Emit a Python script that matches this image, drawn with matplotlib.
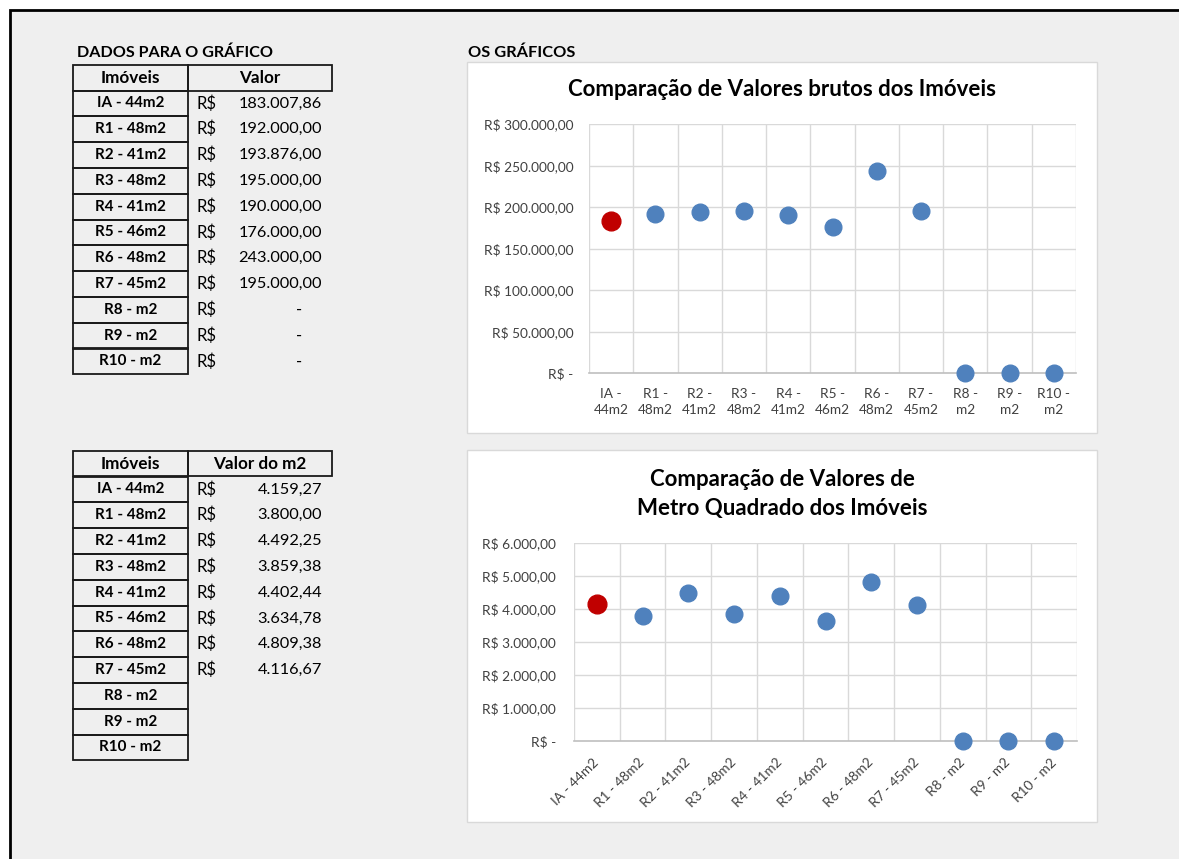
import matplotlib
matplotlib.use('Agg')
import matplotlib.pyplot as plt
from matplotlib.patches import Rectangle

plt.rcParams['font.family'] = ['Lato', 'DejaVu Sans']

#### DADOS ####
codigos = ['IA', 'R1', 'R2', 'R3', 'R4', 'R5', 'R6', 'R7', 'R8', 'R9', 'R10']
areas = [44, 48, 41, 48, 41, 46, 48, 45, None, None, None]
valores = [183007.86, 192000.00, 193876.00, 195000.00, 190000.00, 176000.00,
           243000.00, 195000.00, 0, 0, 0]
valores_m2 = [4159.27, 3800.00, 4492.25, 3859.38, 4402.44, 3634.78,
              4809.38, 4116.67, 0, 0, 0]
ticks_valor = [0, 50000, 100000, 150000, 200000, 250000, 300000]
ticks_m2 = [0, 1000, 2000, 3000, 4000, 5000, 6000]

imoveis = [f"{c} - {a}m2" if a else f"{c} - m2" for c, a in zip(codigos, areas)]


def brl(v):
    # formato contabil brasileiro
    s = f'{v:,.2f}'.replace(',', 'X').replace('.', ',').replace('X', '.')
    return s


def brl_eixo(v, pos=None):
    if v == 0:
        return 'R$ -'
    return 'R$ ' + brl(v)


#### FIGURA (coordenadas em pixels) ####
W, H = 1179, 859
fig = plt.figure(figsize=(W / 100, H / 100), dpi=100)
fig.patch.set_facecolor('white')


def fx(x):
    return x / W


def fy(y):
    return 1 - y / H


def box(x0, y0, x1, y1, zorder=-5, **kw):
    r = Rectangle((fx(x0), fy(y1)), (x1 - x0) / W, (y1 - y0) / H,
                  transform=fig.transFigure, zorder=zorder, **kw)
    fig.patches.append(r)


def txt(x, y, s, **kw):
    fig.text(fx(x), fy(y), s, **kw)


# fundo da planilha
box(10, 10, 1190, 870, zorder=-10, facecolor='#efefef', edgecolor='black', lw=2)

# titulos das secoes
txt(77, 53, 'DADOS PARA O GRÁFICO', fontsize=11.6, fontweight='bold', va='center')
txt(468, 53, 'OS GRÁFICOS', fontsize=11.8, fontweight='bold', va='center')

BORDA = '#1a1a1a'


def tabela(topo, cabecalho, valores_tab, mostrar):
    box(73, topo, 188, topo + 25.5, zorder=2, facecolor='none', edgecolor=BORDA, lw=1.3)
    box(188, topo, 332, topo + 25.5, zorder=2, facecolor='none', edgecolor=BORDA, lw=1.3)
    txt(130.5, topo + 13, 'Imóveis', fontsize=12.3, fontweight='bold', ha='center', va='center')
    txt(260, topo + 13, cabecalho, fontsize=12.3, fontweight='bold', ha='center', va='center')
    h = 25.8
    for i, nome in enumerate(imoveis):
        y0 = topo + 25.5 + i * h
        box(73, y0, 188, y0 + h, zorder=2, facecolor='none', edgecolor=BORDA, lw=1.3)
        txt(130.5, y0 + h / 2, nome, fontsize=11, fontweight='bold', ha='center', va='center')
        if not mostrar[i]:
            continue
        txt(197, y0 + h / 2, 'R$', fontsize=12, va='center')
        v = valores_tab[i]
        if v == 0:
            txt(302, y0 + h / 2, '-', fontsize=12, ha='right', va='center')
        else:
            txt(322, y0 + h / 2, brl(v), fontsize=11.8, ha='right', va='center')


tabela(65, 'Valor', valores, [True] * len(valores))
tabela(451, 'Valor do m2', valores_m2, [a is not None for a in areas])

#### GRAFICOS ####
AZUL = '#4f81bd'
VERMELHO = '#c00000'
GRADE = '#d9d9d9'


def grafico(painel, plot, dados, ticks, rotacao, ypad):
    x0, y0, x1, y1 = painel
    box(x0, y0, x1, y1, facecolor='white', edgecolor='#d9d9d9', lw=1)
    px0, py0, px1, py1 = plot
    ax = fig.add_axes([fx(px0), fy(py1), (px1 - px0) / W, (py1 - py0) / H])
    ax.set_facecolor('white')
    n = len(dados)
    xs = list(range(n))
    ax.plot(xs[1:], dados[1:], 'o', color=AZUL, markersize=12, clip_on=False, zorder=5)
    ax.plot(xs[:1], dados[:1], 'o', color=VERMELHO, markersize=13.5, clip_on=False, zorder=6)
    ax.set_xlim(-0.5, n - 0.5)
    ax.set_ylim(ticks[0], ticks[-1])
    ax.set_yticks(ticks)
    ax.set_yticklabels([brl_eixo(t) for t in ticks])
    for t in ticks[1:]:
        ax.axhline(t, color=GRADE, lw=1, zorder=1)
    for b in range(n + 1):
        ax.axvline(b - 0.5, color=GRADE, lw=1, zorder=1)
    for s in ['top', 'right', 'left']:
        ax.spines[s].set_visible(False)
    ax.spines['bottom'].set_color('#bfbfbf')
    ax.spines['bottom'].set_linewidth(1.2)
    ax.tick_params(length=0, labelsize=9.8, colors='#404040')
    ax.tick_params(axis='y', pad=ypad)
    ax.set_xticks(xs)
    if rotacao:
        ax.set_xticklabels(imoveis, rotation=45, ha='right', rotation_mode='anchor', va='center')
        ax.tick_params(axis='x', pad=14)
    else:
        ax.set_xticklabels([s.replace(' - ', ' -\n') for s in imoveis], linespacing=1.4)
        ax.tick_params(axis='x', pad=11)
    return ax


grafico((467, 62, 1097, 433), (589, 124, 1076, 373), valores, ticks_valor, False, 11)
txt(782, 90, 'Comparação de Valores brutos dos Imóveis', fontsize=16,
    fontweight='bold', ha='center', va='center')

grafico((467, 450, 1097, 822), (574, 543, 1077, 741), valores_m2, ticks_m2, True, 13)
txt(782, 494, 'Comparação de Valores de\nMetro Quadrado dos Imóveis', fontsize=16,
    fontweight='bold', ha='center', va='center', linespacing=1.42)

fig.savefig('out.png', dpi=100)
